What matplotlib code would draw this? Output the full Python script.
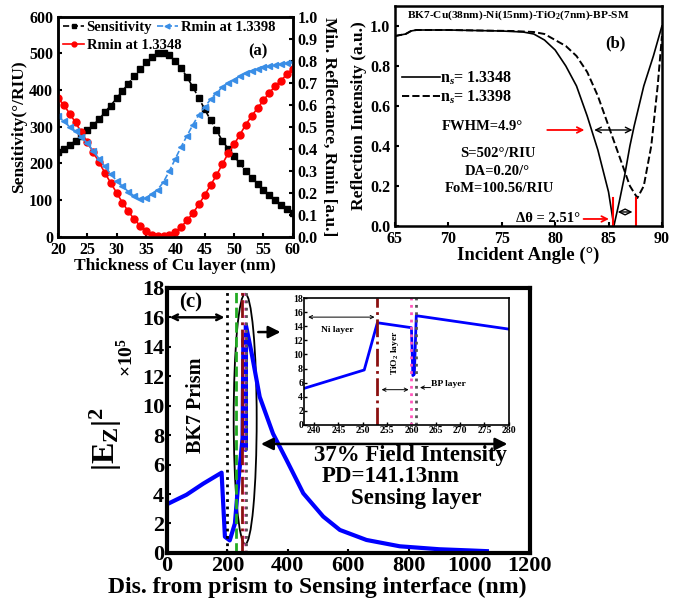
import numpy as np
import matplotlib.pyplot as plt
from matplotlib.patches import Ellipse

plt.rcParams['font.family'] = 'Liberation Serif'
plt.rcParams['font.weight'] = 'bold'
plt.rcParams['axes.labelweight'] = 'bold'
plt.rcParams['mathtext.fontset'] = 'custom'
plt.rcParams['mathtext.rm'] = 'Liberation Serif:bold'
plt.rcParams['mathtext.it'] = 'Liberation Serif:italic:bold'
plt.rcParams['mathtext.bf'] = 'Liberation Serif:bold'
plt.rcParams['xtick.direction'] = 'in'
plt.rcParams['ytick.direction'] = 'in'

# (a) sensitivity / Rmin vs Cu thickness
cu_nm = list(range(20, 61))
sens = [230, 240, 250, 262, 275, 290, 305, 320, 340, 358, 378, 398, 418, 438, 458,
        477, 490, 500, 502, 495, 480, 460, 435, 408, 378, 348, 318, 290, 262, 240,
        220, 200, 180, 160, 143, 128, 113, 100, 88, 75, 65]
rmin_13348 = [0.63, 0.60, 0.56, 0.52, 0.475, 0.43, 0.385, 0.34, 0.29, 0.245, 0.20,
              0.155, 0.115, 0.08, 0.05, 0.025, 0.01, 0.003, 0.002, 0.008, 0.022,
              0.045, 0.075, 0.108, 0.147, 0.19, 0.235, 0.28, 0.33, 0.38, 0.42,
              0.465, 0.51, 0.55, 0.585, 0.62, 0.655, 0.685, 0.71, 0.74, 0.765]
rmin_13398 = [0.55, 0.525, 0.50, 0.48, 0.455, 0.425, 0.39, 0.355, 0.32, 0.285, 0.255,
              0.23, 0.205, 0.185, 0.17, 0.175, 0.195, 0.215, 0.25, 0.30, 0.355,
              0.41, 0.46, 0.51, 0.555, 0.59, 0.625, 0.655, 0.68, 0.70, 0.715,
              0.73, 0.745, 0.755, 0.765, 0.77, 0.775, 0.78, 0.785, 0.79, 0.795]

# (b) reflectance curves
ang_1 = [65, 66, 66.5, 67, 70, 75, 77, 78, 79, 80, 81, 82, 83, 84, 85, 85.5,
         86, 86.5, 87, 87.4, 88.3, 89.2, 90]
ref_1 = [0.95, 0.96, 0.975, 0.98, 0.98, 0.975, 0.97, 0.96, 0.93, 0.88, 0.80, 0.70,
         0.55, 0.38, 0.17, 0.0, 0.12, 0.25, 0.40, 0.50, 0.70, 0.85, 1.0]
ang_2 = [65, 66, 66.5, 67, 70, 76, 78, 79, 80, 81, 82, 83, 84, 85, 86, 87,
         87.7, 88.3, 89, 89.6, 90]
ref_2 = [0.95, 0.96, 0.975, 0.98, 0.98, 0.975, 0.97, 0.96, 0.93, 0.90, 0.85, 0.77,
         0.65, 0.50, 0.35, 0.20, 0.14, 0.20, 0.40, 0.70, 0.95]

# (c) field profile
dist = [0, 65, 120, 181, 192, 208, 225, 238, 250.3, 253, 260, 260.3, 260.6, 261,
        280, 307, 351, 396, 451, 517, 572, 660, 770, 900, 1000, 1058]
ez2 = [3.3, 3.95, 4.7, 5.45, 1.1, 0.85, 2.0, 5.2, 7.8, 14.5, 13.8, 7.0, 7.2, 15.5,
       13.6, 10.6, 8.1, 6.3, 4.05, 2.47, 1.56, 0.88, 0.45, 0.25, 0.17, 0.12]
main_lines = [200, 228, 250, 258, 261]
inset_lines = [253, 260, 261]

fig = plt.figure(figsize=(6.81, 6.01), dpi=100)

# ---------- (a)
ax1 = fig.add_axes([0.085, 0.606, 0.345, 0.366])
ax1r = ax1.twinx()
l1, = ax1.plot(cu_nm, sens, 'ks--', ms=4, lw=1.2, label='Sensitivity')
l2, = ax1r.plot(cu_nm, rmin_13348, 'o-', color='red', ms=5, lw=1.2, label='Rmin at 1.3348')
l3, = ax1r.plot(cu_nm, rmin_13398, '<--', color='#3a8ee6', ms=5, lw=1.2, label='Rmin at 1.3398')
ax1.set_xlim(20, 60)
ax1.set_ylim(0, 600)
ax1r.set_ylim(0, 1.0)
ax1.set_xticks(range(20, 61, 5))
ax1.set_yticks(range(0, 601, 100))
ax1r.set_yticks(np.arange(0, 1.01, 0.1))
ax1r.set_yticklabels(['%.1f' % v for v in np.arange(0, 1.01, 0.1)])
ax1.tick_params(labelsize=11.5, width=1.5, length=3)
ax1r.tick_params(labelsize=11.5, width=1.5, length=3)
ax1.set_xlabel('Thickness of Cu layer (nm)', fontsize=12.5, labelpad=0)
ax1.set_ylabel('Sensitivity(°/RIU)', fontsize=12.5, labelpad=1)
ax1r.set_ylabel('Min. Reflectance, Rmin [a.u.]', fontsize=12.5, rotation=270, labelpad=14)
leg1 = ax1.legend(handles=[l1, l3], ncol=2, frameon=False, fontsize=10.5, loc='center left',
                  bbox_to_anchor=(0.02, 0.95), borderaxespad=0, borderpad=0,
                  handlelength=1.5, handletextpad=0.15, columnspacing=0.3, markerscale=0.7)
ax1.add_artist(leg1)
ax1.legend(handles=[l2], frameon=False, fontsize=10.5, loc='center left',
           bbox_to_anchor=(0.02, 0.87), borderaxespad=0, borderpad=0,
           handlelength=1.5, handletextpad=0.15, markerscale=0.7)
ax1.text(54, 505, '(a)', fontsize=12, ha='center', va='center')
for a in (ax1, ax1r):
    for s in a.spines.values():
        s.set_linewidth(1.8)

# ---------- (b)
ax2 = fig.add_axes([0.580, 0.624, 0.392, 0.366])
ax2.plot(ang_1, ref_1, 'k-', lw=1.2, label='n$_s$= 1.3348')
ax2.plot(ang_2, ref_2, 'k--', lw=1.4, label='n$_s$= 1.3398')
ax2.set_xlim(65, 90)
ax2.set_ylim(0, 1.1)
ax2.set_xticks(range(65, 91, 5))
ax2.set_yticks(np.arange(0, 1.01, 0.2))
ax2.set_yticklabels(['%.1f' % v for v in np.arange(0, 1.01, 0.2)])
ax2.tick_params(labelsize=11.5, width=1.5, length=3)
ax2.set_xlabel('Incident Angle (°)', fontsize=13.5, labelpad=0)
ax2.set_ylabel('Reflection Intensity (a.u.)', fontsize=12.5, labelpad=2)
ax2.legend(frameon=False, fontsize=11.5, loc='center left', bbox_to_anchor=(0.025, 0.63),
           borderaxespad=0, borderpad=0, handlelength=2.4, handletextpad=0, labelspacing=0.1)
ax2.text(66.1, 1.055, 'BK7-Cu(38nm)-Ni(15nm)-TiO$_2$(7nm)-BP-SM', fontsize=8.2, va='center')
ax2.text(85.6, 0.915, '(b)', fontsize=12, ha='center', va='center')
ax2.text(73.2, 0.495, 'FWHM=4.9°', fontsize=10.5, ha='center', va='center')
ax2.annotate('', xy=(83.0, 0.48), xytext=(79.0, 0.48),
             arrowprops=dict(arrowstyle='->', color='red', lw=1.3))
ax2.annotate('', xy=(83.4, 0.48), xytext=(87.5, 0.48),
             arrowprops=dict(arrowstyle='<->', color='k', lw=1.0))
ax2.text(74.6, 0.36, 'S=502°/RIU', fontsize=10.5, ha='center', va='center')
ax2.text(74.6, 0.27, 'DA=0.20/°', fontsize=10.5, ha='center', va='center')
ax2.text(74.8, 0.185, 'FoM=100.56/RIU', fontsize=10.5, ha='center', va='center')
ax2.plot([85.4, 85.4], [0, 0.14], color='red', lw=1.5)
ax2.plot([87.6, 87.6], [0, 0.14], color='red', lw=1.5)
ax2.annotate('', xy=(85.6, 0.07), xytext=(87.5, 0.07),
             arrowprops=dict(arrowstyle='<->', color='k', lw=1.0))
ax2.text(79.3, 0.035, 'Δθ = 2.51°', fontsize=10.5, ha='center', va='center')
ax2.annotate('', xy=(85.3, 0.035), xytext=(82.4, 0.035),
             arrowprops=dict(arrowstyle='->', color='red', lw=1.3))
for s in ax2.spines.values():
    s.set_linewidth(1.8)

# ---------- (c)
ax3 = fig.add_axes([0.245, 0.080, 0.533, 0.441])
ax3.plot(dist, ez2, color='blue', lw=3)
ax3.axvline(main_lines[0], color='k', ls=':', lw=2)
ax3.axvline(main_lines[1], color='#22aa22', ls='--', lw=2)
ax3.axvline(main_lines[2], color='#8b1010', ls='-.', lw=2)
ax3.axvline(main_lines[3], color='#ff55bb', ls=':', lw=2)
ax3.axvline(main_lines[4], color='#555555', ls=':', lw=2)
ax3.add_patch(Ellipse((259, 9.1), 76, 17.0, fill=False, ec='k', lw=1.3))
ax3.set_xlim(0, 1200)
ax3.set_ylim(0, 18)
ax3.set_xticks(range(0, 1201, 200))
ax3.set_yticks(range(0, 19, 2))
ax3.tick_params(labelsize=16, width=1.5, length=3, pad=2)
ax3.set_xlabel('Dis. from prism to Sensing interface (nm)', fontsize=17)
ax3.xaxis.set_label_coords(0.415, -0.09)
ax3.set_ylabel(r'$\mathrm{|E_Z|^2}$', fontsize=23)
ax3.yaxis.set_label_coords(-0.118, 0.43)
fig.text(0.186, 0.405, '×10$^5$', fontsize=14, rotation=90, ha='center', va='center')
ax3.text(80, 17.0, '(c)', fontsize=15, ha='center', va='center')
ax3.annotate('', xy=(0, 16), xytext=(200, 16),
             arrowprops=dict(arrowstyle='<->', color='k', lw=1.8))
ax3.text(96, 10, 'BK7 Prism', fontsize=14.5, rotation=90, ha='center', va='center')
ax3.annotate('', xy=(385, 15), xytext=(293, 15),
             arrowprops=dict(arrowstyle='-|>', color='k', lw=1.8, mutation_scale=18))
ax3.annotate('', xy=(302, 7.4), xytext=(1135, 7.4),
             arrowprops=dict(arrowstyle='<|-|>', color='k', lw=1.8, mutation_scale=18))
ax3.text(805, 6.6, '37% Field Intensity', fontsize=16.5, ha='center', va='center')
ax3.text(740, 5.2, 'PD=141.13nm', fontsize=16.5, ha='center', va='center')
ax3.text(823, 3.7, 'Sensing layer', fontsize=16.5, ha='center', va='center')
for s in ax3.spines.values():
    s.set_linewidth(3)

# inset
ax4 = fig.add_axes([0.447, 0.293, 0.300, 0.211])
ax4.plot(dist, ez2, color='blue', lw=2)
ax4.axvline(inset_lines[0], color='#8b1010', ls='-.', lw=2)
ax4.axvline(inset_lines[1], color='#ff55bb', ls=':', lw=2)
ax4.axvline(inset_lines[2], color='#555555', ls=':', lw=2)
ax4.set_xlim(238, 280)
ax4.set_ylim(0, 18)
ax4.set_xticks(range(240, 281, 5))
ax4.set_yticks(range(0, 19, 2))
ax4.tick_params(labelsize=7, width=1, length=2, pad=1)
ax4.annotate('', xy=(238.2, 15.3), xytext=(253, 15.3),
             arrowprops=dict(arrowstyle='<->', color='k', lw=0.7, mutation_scale=6))
ax4.text(241.5, 13.5, 'Ni layer', fontsize=6.8, va='center')
ax4.annotate('', xy=(253.3, 5), xytext=(260, 5),
             arrowprops=dict(arrowstyle='<->', color='k', lw=0.7, mutation_scale=6))
ax4.text(256.6, 10.3, 'TiO$_2$ layer', fontsize=6.8, rotation=90, ha='center', va='center')
ax4.annotate('', xy=(261.2, 5.3), xytext=(264.5, 5.3),
             arrowprops=dict(arrowstyle='->', color='k', lw=0.7, mutation_scale=6))
ax4.text(264, 5.8, 'BP layer', fontsize=6.8, va='center')
for s in ax4.spines.values():
    s.set_linewidth(1.2)

fig.savefig('out.png', dpi=100)
